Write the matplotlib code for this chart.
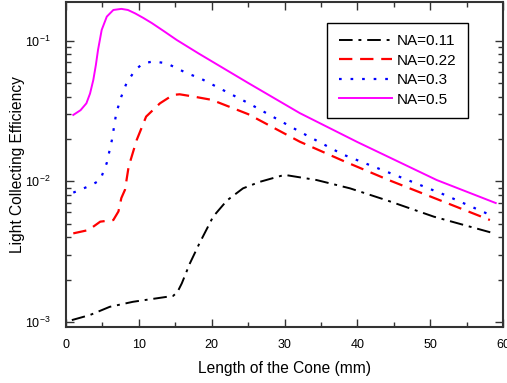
import matplotlib
matplotlib.use("Agg")
import matplotlib.pyplot as plt
from matplotlib.ticker import LogLocator, MultipleLocator, NullFormatter

plt.rcParams["font.family"] = ["Liberation Sans", "DejaVu Sans"]
plt.rcParams["mathtext.fontset"] = "custom"
plt.rcParams["mathtext.rm"] = "Liberation Sans"

# NA = 0.11
x_011 = [0.8, 3.3, 6.0, 9.2, 12.4, 14.7, 15.3, 15.9, 17.0, 18.3, 20.2, 22.1, 24.3, 26.6, 30.0, 34.4, 39.0,
         44.1, 50.5, 58.5]
y_011 = [0.00103, 0.00112, 0.00128, 0.00139, 0.00147, 0.00153, 0.00163, 0.00188, 0.0026, 0.0036, 0.0056,
         0.0073, 0.0089, 0.0099, 0.0111, 0.0102, 0.0089, 0.0073, 0.0056, 0.0043]

# NA = 0.22
x_022 = [1.0, 3.1, 4.7, 6.5, 7.2, 7.6, 8.1, 8.6, 9.7, 11.0, 12.9, 14.7, 15.6, 17.5, 20.0, 25.0, 32.1, 38.0,
         44.3, 50.0, 58.2]
y_022 = [0.00426, 0.0045, 0.00516, 0.0053, 0.0061, 0.0076, 0.0087, 0.0127, 0.0196, 0.0288, 0.0358, 0.0411,
         0.0415, 0.040, 0.0379, 0.030, 0.0191, 0.0140, 0.0102, 0.0078, 0.0053]

# NA = 0.3
x_03 = [1.0, 2.2, 3.5, 4.7, 5.6, 6.3, 6.9, 7.6, 8.3, 9.5, 10.6, 12.0, 13.8, 16.6, 18.4, 25.0, 32.1, 38.0,
        46.3, 52.0, 58.1]
y_03 = [0.0083, 0.0088, 0.0094, 0.0102, 0.0135, 0.0196, 0.0305, 0.040, 0.0497, 0.0618, 0.069, 0.071, 0.069,
        0.0586, 0.054, 0.036, 0.0225, 0.0155, 0.0105, 0.0080, 0.0058]

# NA = 0.5
x_05 = [1.0, 2.0, 2.8, 3.3, 3.75, 4.1, 4.4, 4.9, 5.6, 6.5, 7.6, 8.5, 9.5, 10.6, 11.8, 13.4, 15.2, 18.2,
        25.0, 32.1, 40.0, 50.9, 59.0]
y_05 = [0.0296, 0.032, 0.0358, 0.042, 0.0525, 0.067, 0.086, 0.119, 0.148, 0.165, 0.168, 0.165, 0.156,
        0.145, 0.133, 0.117, 0.101, 0.081, 0.050, 0.0305, 0.0190, 0.0102, 0.0070]

fig = plt.figure(figsize=(5.07, 3.83), dpi=100)
ax = fig.add_axes([66 / 507, 1 - 327 / 383, 437 / 507, 325 / 383])

ax.plot(x_011, y_011, color="black", lw=1.4, dashes=(7, 3, 1.5, 3), label="NA=0.11")
ax.plot(x_022, y_022, color="red", lw=1.6, dashes=(6, 3.5), label="NA=0.22")
ax.plot(x_03, y_03, color="blue", lw=1.6, dashes=(1.2, 4), label="NA=0.3")
ax.plot(x_05, y_05, color="magenta", lw=1.4, label="NA=0.5")

ax.set_yscale("log")
ax.set_xlim(0, 60)
ax.set_ylim(9.2e-4, 0.188)
ax.xaxis.set_major_locator(MultipleLocator(10))
ax.xaxis.set_minor_locator(MultipleLocator(5))
ax.yaxis.set_major_locator(LogLocator(base=10, numticks=10))
ax.yaxis.set_minor_locator(LogLocator(base=10, subs=range(2, 10), numticks=10))
ax.yaxis.set_minor_formatter(NullFormatter())

ax.tick_params(which="both", direction="in", top=True, right=True, labelsize=9, color="#333333")
ax.tick_params(which="major", length=6, width=1)
ax.tick_params(which="minor", length=3.5, width=1)
ax.tick_params(axis="x", which="major", pad=9)
ax.tick_params(axis="y", which="major", pad=11)
for sp in ax.spines.values():
    sp.set_linewidth(1.5)
    sp.set_color("#333333")

ax.set_xlabel("Length of the Cone (mm)", fontsize=11.2, labelpad=7)
ax.set_ylabel("Light Collecting Efficiency", fontsize=11.2, labelpad=0)

leg = ax.legend(loc="upper right", bbox_to_anchor=(402 / 437, 1 - 21 / 325), bbox_transform=ax.transAxes,
                borderaxespad=0, fontsize=11, fancybox=False, edgecolor="black", framealpha=1,
                handlelength=3.5, handletextpad=0.3, labelspacing=0.35, borderpad=0.75)
leg.get_frame().set_linewidth(1.0)

fig.savefig("out.png", dpi=100)
